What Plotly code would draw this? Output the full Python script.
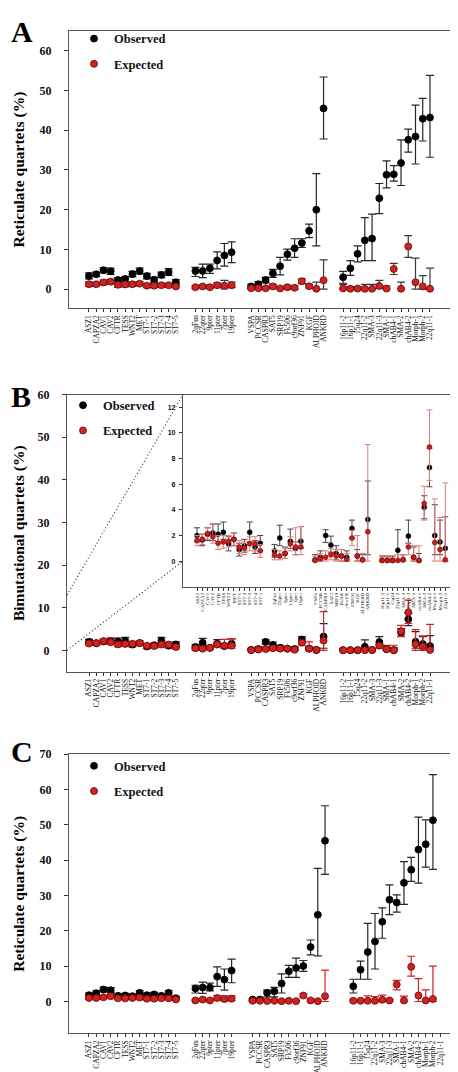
import plotly.graph_objects as go

W, H = 458, 1072

# ---------------- categories ----------------
G1 = ["ASZ1", "CAPZA2", "CAV1", "CAV2", "CFTR", "TESS", "WNT2", "MET", "ST7-1", "ST7-2", "ST7-3", "ST7-4", "ST7-5"]
G2 = ["2qFus", "22qter", "9pter", "11pter", "7pter", "19pter"]
G3 = ["VSPA", "PCCSR", "CASPR3", "SAT5", "SRP19", "Fk506", "c9orf36", "ZNF91", "KGF", "ALPHOID", "ANKRD"]
G4 = ["16p11-2", "16p11-1", "15q24", "22q11-2", "SMA-3", "22q11-3", "SMA-1", "chAB4-1", "SMA-2", "chAB4-2", "Morph-1", "Morph-2", "22q11-1"]
LABELS = G1 + G2 + G3 + G4

# ---------------- Panel A (reticulate quartets) ----------------
A_obs = [3.3, 3.75, 4.8, 4.5, 2.3, 2.6, 3.8, 4.6, 3.3, 2.4, 3.6, 4.3, 1.75,
         4.6, 4.6, 5.25, 7.25, 8.5, 9.3,
         0.7, 1.25, 2.3, 4.0, 5.8, 8.8, 10.3, 11.6, 14.7, 20.0, 45.5,
         3.0, 5.25, 8.9, 12.3, 12.75, 22.9, 28.8, 28.9, 31.75, 37.6, 38.4, 42.9, 43.2]
A_obs_lo = [2.6, 3.2, 4.1, 3.7, 1.7, 1.9, 3.1, 3.8, 2.6, 1.8, 2.9, 3.5, 1.2,
            3.2, 2.9, 4.0, 5.1, 5.8, 6.7,
            0.2, 0.6, 1.6, 3.0, 3.6, 7.3, 8.0, 10.5, 13.0, 10.9, 37.8,
            1.5, 3.5, 6.9, 7.2, 7.2, 19.0, 25.5, 27.2, 26.1, 34.5, 31.5, 37.3, 33.2]
A_obs_hi = [4.1, 4.3, 5.4, 5.3, 2.9, 3.2, 4.5, 5.3, 4.0, 3.0, 4.3, 5.2, 2.4,
            5.5, 6.3, 6.3, 9.4, 11.5, 11.9,
            1.2, 1.9, 3.0, 5.0, 8.0, 10.1, 12.7, 12.7, 16.4, 29.1, 53.4,
            4.5, 7.2, 10.9, 18.0, 18.9, 26.6, 32.3, 31.1, 37.6, 40.3, 46.3, 48.0, 53.8]
A_exp = [1.25, 1.25, 1.7, 1.9, 1.1, 1.2, 1.25, 1.4, 0.9, 0.9, 1.0, 1.0, 0.7,
         0.5, 0.7, 0.5, 1.0, 0.85, 1.0,
         0.25, 0.25, 0.25, 0.7, 0.2, 0.5, 0.35, 2.0, 0.75, 0.1, 2.25,
         0.2, 0.1, 0.15, 0.1, 0.1, 0.8, 0.15, 5.1, 0.1, 10.75, 1.75, 0.7, 0.1]
A_exp_lo = [0.7, 0.8, 1.1, 1.3, 0.5, 0.6, 0.7, 0.9, 0.4, 0.4, 0.5, 0.5, 0.3,
            0.2, 0.3, 0.2, 0.5, 0.1, 0.4,
            0.0, 0.0, 0.0, 0.3, 0.0, 0.1, 0.0, 1.4, 0.3, 0.0, 0.0,
            0.0, 0.0, 0.0, 0.0, 0.0, 0.2, 0.0, 3.7, 0.0, 8.0, 0.0, 0.0, 0.0]
A_exp_hi = [1.8, 1.7, 2.3, 2.5, 1.7, 1.8, 1.8, 1.9, 1.4, 1.4, 1.5, 1.5, 1.1,
            0.9, 1.1, 0.9, 1.6, 2.2, 1.8,
            0.7, 0.6, 0.6, 1.2, 0.6, 1.0, 0.8, 2.6, 1.2, 1.8, 7.4,
            1.2, 0.6, 0.6, 1.2, 1.2, 2.2, 0.8, 6.5, 1.8, 13.5, 7.8, 3.4, 5.3]

# ---------------- Panel B (bimutational quartets) ----------------
B_obs = [2.0, 1.65, 2.1, 2.2, 2.1, 2.25, 1.35, 1.7, 0.9, 1.2, 2.25, 1.1, 1.4,
         0.8, 1.8, 0.6, 1.55, 1.0, 1.55,
         0.1, 0.3, 2.0, 1.25, 0.6, 0.4, 0.3, 2.55, 0.4, 0.1, 3.25,
         0.05, 0.05, 0.05, 0.85, 0.1, 1.95, 0.3, 0.05, 4.2, 7.3, 2.0, 1.5, 1.0]
B_obs_lo = [1.5, 1.2, 1.6, 1.6, 1.5, 1.7, 0.8, 1.2, 0.4, 0.7, 1.5, 0.6, 0.8,
            0.3, 1.2, 0.2, 1.0, 0.5, 1.0,
            0.0, 0.0, 1.45, 0.7, 0.1, 0.0, 0.0, 1.8, 0.0, 0.0, 0.5,
            0.0, 0.0, 0.0, 0.0, 0.0, 1.4, 0.0, 0.0, 3.3, 5.8, 0.5, 0.5, 0.0]
B_obs_hi = [2.6, 2.1, 2.6, 2.9, 2.9, 3.05, 1.9, 2.2, 1.4, 1.7, 3.05, 1.6, 2.0,
            1.3, 2.8, 1.1, 2.5, 1.5, 2.7,
            0.5, 0.8, 2.45, 1.95, 1.2, 0.9, 0.8, 3.2, 0.9, 0.5, 6.25,
            0.4, 0.4, 0.4, 2.45, 0.5, 3.2, 1.1, 0.6, 5.1, 8.8, 4.4, 3.2, 3.45]
B_exp = [1.6, 1.7, 2.15, 1.9, 1.4, 1.5, 1.55, 1.7, 1.1, 1.0, 1.35, 1.35, 0.8,
         0.5, 0.4, 0.6, 1.35, 1.1, 1.1,
         0.05, 0.2, 0.3, 0.5, 0.4, 0.4, 0.15, 1.8, 0.4, 0.1, 2.3,
         0.05, 0.05, 0.05, 0.05, 0.1, 1.1, 0.3, 0.05, 4.5, 8.9, 1.45, 0.9, 0.1]
B_exp_lo = [1.2, 1.3, 1.7, 1.4, 0.9, 1.0, 1.1, 1.2, 0.6, 0.5, 0.8, 0.8, 0.3,
            0.1, 0.1, 0.2, 0.8, 0.5, 0.5,
            0.0, 0.0, 0.0, 0.1, 0.0, 0.0, 0.0, 1.2, 0.0, 0.0, 0.0,
            0.0, 0.0, 0.0, 0.0, 0.0, 0.5, 0.0, 0.0, 3.2, 6.3, 0.0, 0.0, 0.0]
B_exp_hi = [2.0, 2.1, 2.6, 2.9, 2.0, 2.0, 2.0, 2.2, 1.6, 1.5, 1.9, 1.9, 1.3,
            0.9, 0.8, 1.0, 1.9, 2.6, 2.7,
            0.4, 0.6, 0.8, 1.0, 0.9, 0.9, 0.6, 2.4, 2.0, 0.6, 9.1,
            0.3, 0.3, 0.3, 0.5, 0.5, 1.4, 1.2, 1.2, 5.85, 11.8, 4.85, 3.4, 6.1]

# ---------------- Panel C (reticulate quartets) ----------------
C_obs = [1.8, 2.35, 3.4, 3.2, 1.6, 1.7, 1.5, 2.45, 1.8, 2.0, 1.6, 2.45, 0.95,
         3.7, 3.95, 3.95, 7.05, 6.2, 8.75,
         0.55, 0.55, 2.45, 2.9, 5.1, 8.55, 9.5, 10.05, 15.4, 24.55, 45.5,
         4.3, 9.0, 14.0, 17.0, 22.6, 28.8, 28.0, 33.6, 37.3, 43.0, 44.5, 51.3, None]
C_obs_lo = [1.3, 1.7, 2.7, 2.5, 1.0, 1.1, 0.9, 1.8, 1.2, 1.4, 1.0, 1.8, 0.5,
            2.4, 2.3, 3.0, 4.3, 3.2, 5.3,
            0.2, 0.2, 1.3, 1.3, 2.4, 6.8, 6.8, 8.5, 13.2, 12.9, 36.0,
            2.4, 6.3, 6.3, 9.2, 17.9, 24.6, 25.3, 27.5, 34.0, 33.5, 38.0, 37.4, None]
C_obs_hi = [2.4, 3.0, 4.1, 3.9, 2.2, 2.3, 2.1, 3.1, 2.4, 2.6, 2.2, 3.1, 1.4,
            4.6, 5.5, 5.2, 9.8, 9.2, 12.0,
            0.9, 0.9, 3.2, 4.0, 7.8, 10.2, 12.3, 11.6, 17.4, 37.7, 55.4,
            6.3, 11.4, 22.1, 24.9, 26.5, 33.0, 30.2, 39.6, 40.8, 52.2, 51.4, 64.2, None]
C_exp = [1.0, 1.0, 1.2, 1.5, 0.9, 0.9, 1.0, 1.1, 0.8, 0.8, 0.9, 0.9, 0.6,
         0.3, 0.55, 0.3, 1.0, 0.7, 0.8,
         0.2, 0.2, 0.15, 0.2, 0.1, 0.2, 0.1, 1.7, 0.3, 0.1, 1.5,
         0.2, 0.2, 0.2, 0.2, 0.5, 0.3, 4.8, 0.3, 9.8, 1.7, 0.3, 0.7, None]
C_exp_lo = [0.6, 0.6, 0.8, 1.0, 0.5, 0.5, 0.6, 0.7, 0.4, 0.4, 0.5, 0.5, 0.3,
            0.1, 0.2, 0.1, 0.4, 0.1, 0.3,
            0.0, 0.0, 0.0, 0.0, 0.0, 0.0, 0.0, 1.2, 0.0, 0.0, 0.0,
            0.0, 0.0, 0.0, 0.0, 0.1, 0.0, 3.3, 0.0, 7.2, 0.0, 0.0, 0.0, None]
C_exp_hi = [1.4, 1.4, 1.6, 2.0, 1.3, 1.3, 1.4, 1.5, 1.2, 1.2, 1.3, 1.3, 0.9,
            0.6, 0.9, 0.6, 1.7, 1.6, 1.6,
            0.5, 0.5, 0.4, 0.5, 0.4, 0.5, 0.4, 2.2, 0.7, 0.4, 8.9,
            0.5, 0.5, 1.6, 1.4, 1.8, 0.6, 6.0, 1.5, 12.8, 6.5, 3.3, 10.0, None]

SERIES_NAMES = ["Observed", "Expected"]
Y_TITLES = ["Reticulate quartets (%)", "Bimutational quartets (%)", "Reticulate quartets (%)"]
PANEL_LETTERS = ["A", "B", "C"]

# ---------------- helpers ----------------
def px(x):
    return x / W

def py(y):
    return 1 - y / H

def positions(starts):
    pos = []
    for grp, s in zip([G1, G2, G3, G4], starts):
        pos += [s + i for i in range(len(grp))]
    return pos

POS_AB = positions([0, 14.7, 22.4, 35.1])
POS_C = positions([0, 14.7, 22.6, 36.5])

def errs(v, lo, hi):
    up = [None if a is None else round(h - a, 4) for a, h in zip(v, hi)]
    dn = [None if a is None else round(a - l, 4) for a, l in zip(v, lo)]
    return up, dn

SERIF = "Liberation Serif"
fig = go.Figure()

def add(xa, ya, pos, v, lo, hi, name, fill, edge, size, ecol, ewidth, legend, show, thick=1.2, lw=0.8):
    up, dn = errs(v, lo, hi)
    fig.add_trace(go.Scatter(
        x=pos, y=v, mode="markers", xaxis=xa, yaxis=ya, name=name,
        marker=dict(color=fill, size=size, line=dict(color=edge, width=lw)),
        error_y=dict(type="data", symmetric=False, array=up, arrayminus=dn,
                     color=ecol, thickness=thick, width=ewidth),
        legend=legend, showlegend=show, legendgroup=legend + name,
        hoverinfo="skip"))

RED = "#d42020"
RED_EDGE = "#5a0a0a"

# Panel A
add("x", "y", POS_AB, A_obs, A_obs_lo, A_obs_hi, SERIES_NAMES[0], "#000000", "#000000", 7, "#262626", 4, "legend", True)
add("x", "y", POS_AB, A_exp, A_exp_lo, A_exp_hi, SERIES_NAMES[1], RED, RED_EDGE, 7, "#3a3a3a", 4, "legend", True)
# Panel B main
add("x2", "y2", POS_AB, B_obs, B_obs_lo, B_obs_hi, SERIES_NAMES[0], "#000000", "#000000", 7, "#262626", 4, "legend2", True)
add("x2", "y2", POS_AB, B_exp, B_exp_lo, B_exp_hi, SERIES_NAMES[1], RED, RED_EDGE, 7, "#d42020", 4, "legend2", True)
# Panel B inset
add("x3", "y3", POS_AB, B_obs, B_obs_lo, B_obs_hi, SERIES_NAMES[0], "#000000", "#000000", 5, "#444444", 3, "legend2", False, 1, 0.5)
add("x3", "y3", POS_AB, B_exp, B_exp_lo, B_exp_hi, SERIES_NAMES[1], "#c81c1c", "#7a0000", 5, "#e07a7a", 3, "legend2", False, 1, 0.5)
# Panel C
add("x4", "y4", POS_C, C_obs, C_obs_lo, C_obs_hi, SERIES_NAMES[0], "#000000", "#000000", 7, "#262626", 4, "legend3", True)
add("x4", "y4", POS_C, C_exp, C_exp_lo, C_exp_hi, SERIES_NAMES[1], RED, RED_EDGE, 7, "#d42020", 4, "legend3", True)

# ---------------- axes ----------------
FRAME = "#555555"

def xax(dom, rng, anchor, pos, fs=7.5):
    return dict(domain=dom, range=rng, anchor=anchor, tickmode="array", tickvals=pos,
                ticktext=LABELS, tickangle=-90, ticks="outside", ticklen=3, tickcolor="#333",
                tickfont=dict(family=SERIF, size=fs, color="#111"), showline=True,
                mirror=True, linecolor=FRAME, linewidth=1.2, showgrid=False, zeroline=False)

def yax(dom, rng, anchor, ticks, fs=12, fam=SERIF, standoff=10):
    return dict(domain=dom, range=rng, anchor=anchor, tickmode="array", tickvals=ticks,
                ticks="outside", ticklen=4, tickcolor="#333", ticklabelstandoff=standoff,
                tickfont=dict(family=fam, size=fs, color="#111", weight="bold"),
                showline=True, mirror=True, linecolor=FRAME, linewidth=1.2,
                showgrid=False, zeroline=False)

A_dom_x = [px(61), px(450)]
A_dom_y = [py(295), py(16)]
B_dom_x = [px(59), px(451)]
B_dom_y = [py(661), py(382)]
I_dom_x = [px(175), px(451)]
I_dom_y = [py(575.5), py(382)]
C_dom_x = [px(61), px(451)]
C_dom_y = [py(1025), py(744)]

A_yr = [-4.75, 65]
B_yr = [-5, 60]
I_yr = [-2, 13]
C_yr = [-9, 70]

fig.update_layout(
    xaxis=xax(A_dom_x, [-2.76, 50.97], "y", POS_AB),
    yaxis=yax(A_dom_y, A_yr, "x", list(range(0, 61, 10))),
    xaxis2=xax(B_dom_x, [-3.04, 51.1], "y2", POS_AB),
    yaxis2=yax(B_dom_y, B_yr, "x2", list(range(0, 61, 10))),
    xaxis3=xax(I_dom_x, [-2.66, 49.7], "y3", POS_AB, fs=5),
    yaxis3=yax(I_dom_y, I_yr, "x3", list(range(0, 13, 2)), fs=7,
               fam="Liberation Sans Narrow, Liberation Sans", standoff=2),
    xaxis4=xax(C_dom_x, [-2.76, 51.1], "y4", POS_C),
    yaxis4=yax(C_dom_y, C_yr, "x4", list(range(0, 71, 10))),
)
fig.layout.yaxis3.ticklen = 3

# ---------------- legends ----------------
def leg(x, y):
    return dict(x=px(x), y=py(y), xanchor="left", yanchor="top", bgcolor="rgba(0,0,0,0)",
                font=dict(family=SERIF, size=12.5, color="#111", weight="bold"),
                tracegroupgap=6, itemwidth=30)

fig.update_layout(legend=leg(66, 9), legend2=leg(55, 378), legend3=leg(66, 741))

# ---------------- annotations ----------------
ann = []
for letter, (lx, ly) in zip(PANEL_LETTERS, [(14, 17), (13, 384), (14, 741)]):
    ann.append(dict(text=letter, x=px(lx), y=py(ly), xref="paper", yref="paper",
                    xanchor="center", yanchor="middle", showarrow=False,
                    font=dict(family=SERIF, size=30, color="#000", weight="bold")))
for title, cy in zip(Y_TITLES, [155.5, 521.5, 884.5]):
    ann.append(dict(text=title, x=px(11), y=py(cy), xref="paper", yref="paper", textangle=-90,
                    xanchor="center", yanchor="middle", showarrow=False,
                    font=dict(family=SERIF, size=15.5, color="#000", weight="bold")))
fig.update_layout(annotations=ann)

# ---------------- zoom guide lines (B) ----------------
def yB(v):
    return B_dom_y[0] + (v - B_yr[0]) / (B_yr[1] - B_yr[0]) * (B_dom_y[1] - B_dom_y[0])

def yI(v):
    return I_dom_y[0] + (v - I_yr[0]) / (I_yr[1] - I_yr[0]) * (I_dom_y[1] - I_dom_y[0])

shapes = [
    dict(type="line", xref="paper", yref="paper", x0=B_dom_x[0], y0=yB(I_yr[1]), x1=I_dom_x[0], y1=yI(I_yr[1]),
         line=dict(color="#222", width=1.1, dash="1px,2.5px"), layer="above"),
    dict(type="line", xref="paper", yref="paper", x0=B_dom_x[0], y0=yB(0), x1=I_dom_x[0], y1=yI(0),
         line=dict(color="#222", width=1.1, dash="1px,2.5px"), layer="above"),
]
fig.update_layout(shapes=shapes)

fig.update_layout(width=W, height=H, margin=dict(l=0, r=0, t=0, b=0),
                  paper_bgcolor="white", plot_bgcolor="white", showlegend=True)

fig.write_html("out.html")
